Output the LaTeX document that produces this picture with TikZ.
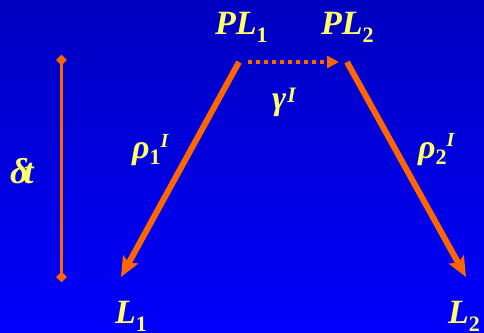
\documentclass[tikz,border=0pt]{standalone}
\usepackage{fontspec}
\setmainfont{Liberation Serif}
\usetikzlibrary{arrows.meta,shapes.geometric}
\definecolor{bgtop}{RGB}{0,0,192}
\definecolor{bgbot}{RGB}{0,0,252}
\definecolor{labyellow}{RGB}{255,255,102}
\definecolor{arrorange}{RGB}{255,102,0}
\newcommand\sbx[2]{\raisebox{-#2}{\fontsize{22}{22}\selectfont\upshape #1}}
\newcommand\spx[3]{\raisebox{#2}{\fontsize{#3}{#3}\selectfont #1}}
\tikzset{
  lab/.style={text=labyellow, font=\fontsize{34}{34}\selectfont\bfseries\itshape, inner sep=0pt, anchor=base west},
  bigarrow/.style={draw=arrorange, line width=6pt, -{Stealth[length=20pt,width=17pt,inset=4pt]}},
  dotarrow/.style={draw=arrorange, line width=4pt, dash pattern=on 4pt off 4pt, -{Triangle[length=12pt,width=12pt]}},
  endmark/.style={diamond, fill=arrorange, inner sep=0pt, minimum size=11pt},
}
\begin{document}
\begin{tikzpicture}[x=1pt,y=-1pt]
\useasboundingbox (0pt,0pt) rectangle (484pt,-332pt);
\clip (0pt,0pt) rectangle (484pt,-332pt);
\shade[top color=bgtop, bottom color=bgbot] (0pt,0pt) rectangle (484pt,-332pt);
% labels
\node[lab] (pl1) at (215,34) {PL\sbx{1}{8pt}};
\node[lab] (pl2) at (321,34) {PL\sbx{2}{8pt}};
\node[lab] (l1) at (115,323) {L\sbx{1}{8pt}};
\node[lab] (l2) at (448,323) {L\sbx{2}{8pt}};
\node[lab] (gam) at (272,109) {γ\kern1pt\spx{I}{7pt}{22}};
\node[lab] (rho1) at (132,158) {ρ\sbx{1}{6pt}\spx{I}{11pt}{20}};
\node[lab] (rho2) at (418,158) {ρ\sbx{2}{6pt}\spx{I}{12pt}{20}};
\node[lab, font=\fontsize{36}{36}\selectfont\bfseries\itshape] (dt) at (10,183) {δ\kern-5pt t};
% connector end points
\coordinate (a1s) at (239,62);
\coordinate (a1e) at (121,277);
\coordinate (a2s) at (347,62);
\coordinate (a2e) at (466,277);
\coordinate (gs) at (248,62);
\coordinate (ge) at (339,62);
\node[endmark] (dtop) at (61.5,60) {};
\node[endmark] (dbot) at (61.5,277) {};
% connectors
\draw[arrorange, line width=2.5pt] (dtop.center) -- (dbot.center);
\draw[bigarrow] (a1s) -- (a1e);
\draw[bigarrow] (a2s) -- (a2e);
\draw[dotarrow] (gs) -- (ge);
\end{tikzpicture}
\end{document}
